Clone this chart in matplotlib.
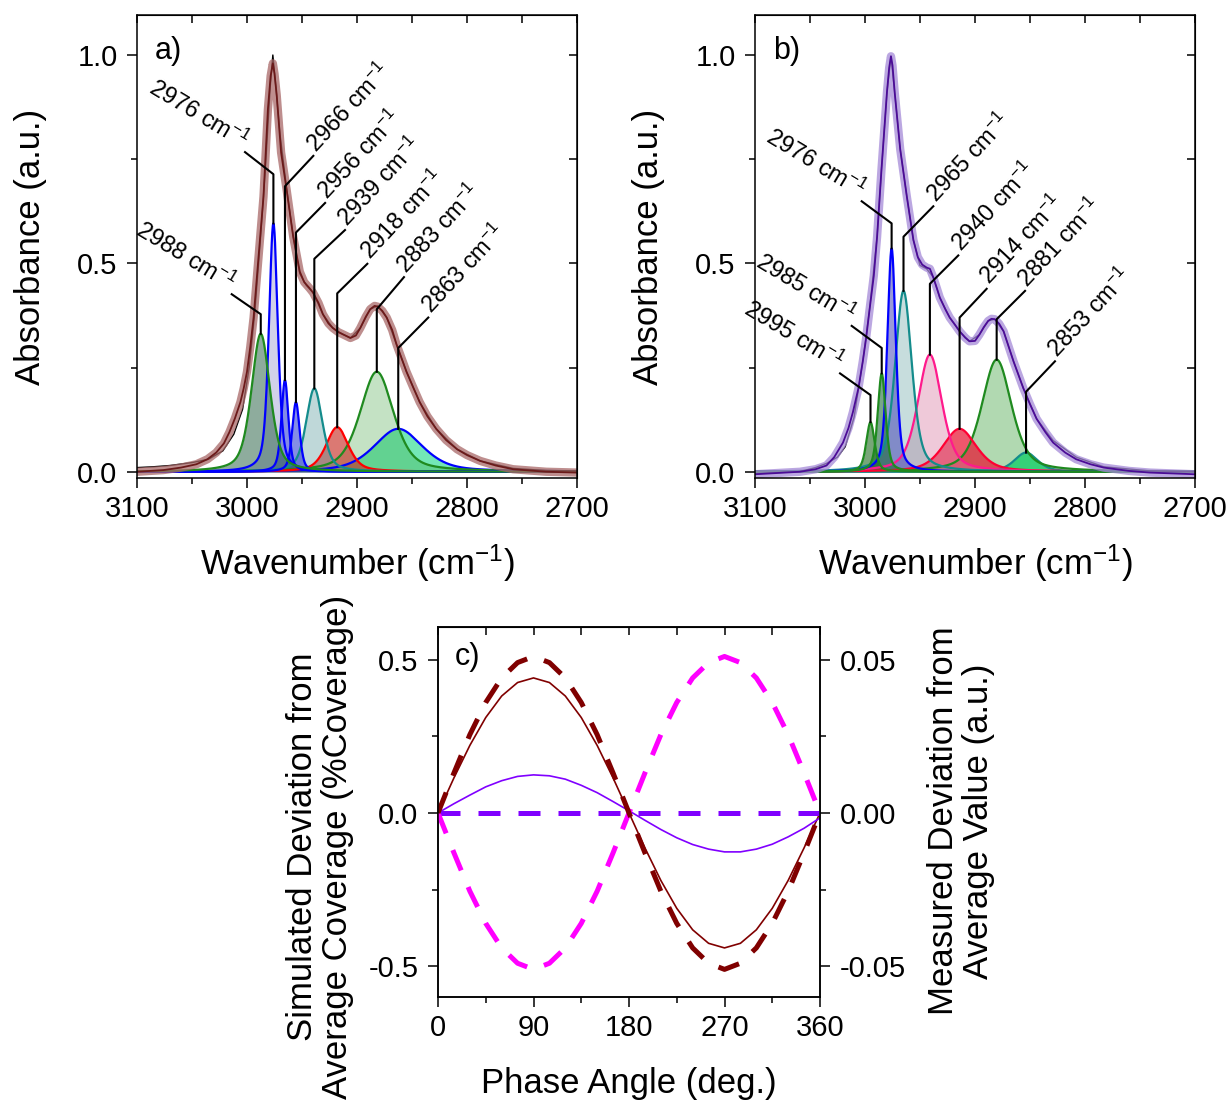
import numpy as np
import matplotlib
matplotlib.use('Agg')
import matplotlib.pyplot as plt
from matplotlib.ticker import MultipleLocator, FormatStrFormatter

plt.rcParams['font.family'] = ['Liberation Sans', 'DejaVu Sans']
plt.rcParams['mathtext.fontset'] = 'custom'
plt.rcParams['mathtext.rm'] = 'Liberation Sans'
plt.rcParams['mathtext.it'] = 'Liberation Sans:italic'
plt.rcParams['mathtext.default'] = 'regular'
plt.rcParams['axes.unicode_minus'] = False

##PANEL A: fitted peaks (position, height, FWHM)##
a_label = ['2988', '2976', '2966', '2956', '2939', '2918', '2883', '2863']
a_center = [2987.5, 2976.0, 2965.5, 2955.5, 2938.8, 2918.0, 2882.0, 2862.5]
a_height = [0.331, 0.596, 0.220, 0.167, 0.200, 0.107, 0.240, 0.103]
a_fwhm = [20, 9.5, 7.5, 8, 17.5, 24, 36, 52]

# measured spectrum and total fit
a_meas_wn = [3100, 3085, 3070, 3050, 3035, 3022, 3012, 3004, 2998, 2993, 2988,
             2983, 2979, 2976.5, 2974, 2970, 2964, 2958, 2952, 2946, 2940, 2931,
             2922, 2913, 2906, 2897, 2888, 2881, 2873, 2864, 2855, 2843, 2828,
             2809, 2788, 2758, 2728, 2700]
a_meas = [0.010, 0.012, 0.015, 0.022, 0.030, 0.050, 0.090, 0.150, 0.250, 0.380,
          0.550, 0.740, 0.920, 1.000, 0.930, 0.810, 0.680, 0.565, 0.475, 0.447,
          0.430, 0.378, 0.345, 0.330, 0.321, 0.345, 0.390, 0.398, 0.370, 0.305,
          0.240, 0.167, 0.103, 0.054, 0.026, 0.008, 0.003, 0.002]
a_fit_wn = [3100, 3076, 3060, 3046, 3036, 3028, 3021, 3016, 3011, 3006, 3003,
            3000, 2997, 2994, 2990, 2985, 2981, 2978.5, 2976.5, 2975, 2973, 2969,
            2964, 2958, 2952, 2948, 2943, 2940, 2935, 2931, 2926, 2922, 2917,
            2913, 2906, 2901, 2897, 2892, 2888, 2884, 2881, 2877, 2873, 2868,
            2864, 2855, 2849, 2843, 2836, 2828, 2819, 2809, 2800, 2788, 2774,
            2758, 2728, 2700]
a_fit = [0.000, 0.004, 0.010, 0.018, 0.030, 0.046, 0.068, 0.095, 0.128, 0.167,
         0.200, 0.240, 0.300, 0.370, 0.500, 0.660, 0.870, 0.950, 0.980, 0.955,
         0.904, 0.766, 0.677, 0.564, 0.480, 0.455, 0.440, 0.430, 0.405, 0.378,
         0.356, 0.345, 0.335, 0.330, 0.321, 0.327, 0.345, 0.372, 0.390, 0.398,
         0.396, 0.386, 0.370, 0.340, 0.305, 0.240, 0.203, 0.167, 0.133, 0.103,
         0.076, 0.054, 0.040, 0.026, 0.015, 0.006, 0.000, -0.002]

##PANEL B##
b_label = ['2995', '2985', '2976', '2965', '2940', '2914', '2881', '2853']
b_center = [2995.0, 2984.8, 2975.8, 2965.0, 2941.0, 2914.0, 2880.3, 2853.6]
b_height = [0.119, 0.236, 0.536, 0.434, 0.281, 0.103, 0.269, 0.046]
b_fwhm = [9, 8.5, 9, 18, 26, 36, 32, 25]

b_meas_wn = [3100, 3080, 3060, 3045, 3035, 3025, 3018, 3010, 3002, 2996, 2989,
             2985, 2980, 2976.4, 2973, 2968, 2962, 2956, 2950, 2944, 2938, 2932,
             2923, 2914, 2905, 2896, 2888, 2882, 2874, 2865, 2856, 2844, 2829,
             2808, 2783, 2741, 2700]
b_meas = [-0.005, -0.002, 0.000, 0.010, 0.020, 0.035, 0.060, 0.130, 0.265,
          0.386, 0.564, 0.726, 0.912, 0.997, 0.910, 0.774, 0.661, 0.556, 0.495,
          0.487, 0.467, 0.418, 0.370, 0.337, 0.313, 0.329, 0.362, 0.366, 0.337,
          0.265, 0.200, 0.127, 0.075, 0.035, 0.012, 0.002, 0.000]
b_fit_wn = [3100, 3059, 3045, 3035, 3028, 3020, 3015, 3011, 3006, 3002, 2999,
            2996, 2992, 2989, 2985, 2980, 2978, 2976.4, 2975, 2973, 2968, 2962,
            2956, 2952, 2948, 2944, 2941, 2938, 2935, 2932, 2927, 2923, 2918,
            2914, 2909, 2905, 2900, 2896, 2892, 2888, 2885, 2882, 2878, 2874,
            2870, 2865, 2856, 2850, 2844, 2836, 2829, 2818, 2808, 2795, 2783,
            2760, 2741, 2700]
b_fit = [-0.006, 0.000, 0.006, 0.015, 0.035, 0.070, 0.105, 0.143, 0.200, 0.265,
         0.320, 0.386, 0.470, 0.564, 0.726, 0.912, 0.970, 0.997, 0.975, 0.910,
         0.774, 0.661, 0.556, 0.515, 0.497, 0.490, 0.487, 0.467, 0.443, 0.418,
         0.390, 0.370, 0.352, 0.337, 0.322, 0.313, 0.314, 0.329, 0.347, 0.362,
         0.367, 0.366, 0.355, 0.337, 0.305, 0.265, 0.200, 0.162, 0.127, 0.095,
         0.070, 0.046, 0.030, 0.018, 0.010, 0.002, -0.002, -0.006]

##PANEL C##
phase = [0, 15, 30, 45, 60, 75, 90, 105, 120, 135, 150, 165, 180,
         195, 210, 225, 240, 255, 270, 285, 300, 315, 330, 345, 360]
meas_brown = [0, 0.013, 0.0255, 0.036, 0.044, 0.049, 0.051, 0.049, 0.044, 0.036,
              0.0255, 0.013, 0, -0.013, -0.0255, -0.036, -0.044, -0.049, -0.051,
              -0.049, -0.044, -0.036, -0.0255, -0.013, 0]
meas_magenta = [0, -0.013, -0.0255, -0.036, -0.044, -0.049, -0.051, -0.049,
                -0.044, -0.036, -0.0255, -0.013, 0, 0.013, 0.0255, 0.036, 0.044,
                0.049, 0.051, 0.049, 0.044, 0.036, 0.0255, 0.013, 0]
meas_purple = [0, 0, 0, 0, 0, 0, 0, 0, 0, 0, 0, 0, 0,
               0, 0, 0, 0, 0, 0, 0, 0, 0, 0, 0, 0]
sim_brown = [0, 0.114, 0.220, 0.311, 0.381, 0.425, 0.440, 0.425, 0.381, 0.311,
             0.220, 0.114, 0, -0.114, -0.220, -0.311, -0.381, -0.425, -0.440,
             -0.425, -0.381, -0.311, -0.220, -0.114, 0]
sim_purple = [0, 0.030, 0.058, 0.085, 0.105, 0.119, 0.124, 0.121, 0.110, 0.090,
              0.066, 0.037, 0.007, -0.024, -0.054, -0.081, -0.103, -0.118, -0.127,
              -0.127, -0.118, -0.102, -0.078, -0.050, -0.016]

# annotation leader layout (vertical top, then end of the slanted segment)
a_top = [0.378, 0.714, 0.685, 0.574, 0.511, 0.428, 0.390, 0.297]
a_end_wn = [3013.9, 3001.8, 2939.7, 2929.0, 2910.9, 2890.6, 2857.3, 2835.2]
a_end_A = [0.426, 0.767, 0.758, 0.645, 0.580, 0.499, 0.467, 0.370]
b_top = [0.184, 0.297, 0.596, 0.564, 0.451, 0.370, 0.366, 0.192]
b_end_wn = [3022.7, 3012.1, 3003.0, 2937.9, 2915.2, 2889.4, 2854.5, 2827.3]
b_end_A = [0.236, 0.350, 0.649, 0.637, 0.519, 0.439, 0.434, 0.265]

a_line = ['#1f8a1f', '#0000ff', '#0000ff', '#0000ff', '#148c8c', '#ff0000', '#1f8a1f', '#0000ff']
a_fill = ['#1e5a3c', '#8c8cc8', '#2030d0', '#2030d0', '#5f9ea0', '#c83228', '#3ca03c', '#00d67a']
a_alpha = [0.5, 0.4, 0.55, 0.55, 0.4, 0.65, 0.3, 0.55]
b_line = ['#1f8a1f', '#1f8a1f', '#0000ff', '#148c8c', '#ff1a8c', '#ff0033', '#1f8a1f', '#148c8c']
b_fill = ['#1e6b1e', '#1e6b3c', '#4848b8', '#5f9ea0', '#d87aa0', '#e8102e', '#3ca03c', '#00f08a']
b_alpha = [0.6, 0.6, 0.55, 0.35, 0.4, 0.7, 0.4, 0.8]


def peak(x, c, h, w):
    u = (x - c) / w
    return h * (0.5 * np.exp(-4 * np.log(2) * u ** 2) + 0.5 / (1 + 4 * u ** 2))


def style_axes(ax):
    for s in ax.spines.values():
        s.set_linewidth(1.1)
    ax.tick_params(which='major', direction='out', length=7, width=1.1,
                   labelsize=21, pad=5)
    ax.tick_params(which='minor', direction='out', length=4, width=1.1)
    ax.tick_params(axis='y', which='major', pad=7)


def spectrum(ax, labels, centers, heights, fwhms, tops, end_wn, end_A,
             lcol, fcol, alph, meas_wn, meas, fit_wn, fit, band, core, tag):
    x = np.linspace(2700, 3100, 1601)
    # draw low wavenumber first
    order = np.argsort(centers)
    for i in order:
        y = peak(x, centers[i], heights[i], fwhms[i])
        ax.fill_between(x, 0, y, color=fcol[i], alpha=alph[i], lw=0)
        ax.plot(x, y, color=lcol[i], lw=1.6)
    ax.plot(meas_wn, meas, color='k', lw=1.0)
    ax.plot(fit_wn, fit, color=band, lw=6, alpha=0.75, solid_capstyle='round',
            solid_joinstyle='round')
    ax.plot(fit_wn, fit, color=core, lw=1.3, solid_joinstyle='round')
    for i in range(len(labels)):
        ax.plot([centers[i], centers[i], end_wn[i]],
                [heights[i], tops[i], end_A[i]], color='k', lw=1.5)
        txt = labels[i] + r' cm$^{-1}$'
        if end_wn[i] > centers[i]:
            ax.annotate(txt, (end_wn[i], end_A[i]), xytext=(-2, 2),
                        textcoords='offset points', rotation=-31,
                        rotation_mode='anchor', ha='right', va='baseline',
                        fontsize=17)
        else:
            ax.annotate(txt, (end_wn[i], end_A[i]), xytext=(2, 2),
                        textcoords='offset points', rotation=47,
                        rotation_mode='anchor', ha='left', va='baseline',
                        fontsize=17)
    ax.set_xlim(3100, 2700)
    ax.set_ylim(-0.015, 1.096)
    ax.xaxis.set_major_locator(MultipleLocator(100))
    ax.xaxis.set_minor_locator(MultipleLocator(50))
    ax.yaxis.set_major_locator(MultipleLocator(0.5))
    ax.yaxis.set_minor_locator(MultipleLocator(0.25))
    ax.yaxis.set_major_formatter(FormatStrFormatter('%.1f'))
    style_axes(ax)
    top = ax.secondary_xaxis('top')
    top.xaxis.set_major_locator(MultipleLocator(50))
    top.tick_params(direction='in', length=6, width=1.1, labeltop=False)
    right = ax.secondary_yaxis('right')
    right.yaxis.set_major_locator(MultipleLocator(0.25))
    right.tick_params(direction='in', length=6, width=1.1, labelright=False)
    ax.set_xlabel(r'Wavenumber (cm$^{-1}$)', fontsize=25)
    ax.xaxis.set_label_coords(0.5, -0.14)
    ax.set_ylabel('Absorbance (a.u.)', fontsize=25)
    ax.yaxis.set_label_coords(-0.205, 0.5)
    ax.text(0.04, 0.955, tag, transform=ax.transAxes, fontsize=22,
            ha='left', va='top')


fig = plt.figure(figsize=(12.3, 11), dpi=100)
ax1 = fig.add_axes([137 / 1230, 1 - 478 / 1100, 440 / 1230, 463 / 1100])
ax2 = fig.add_axes([755 / 1230, 1 - 478 / 1100, 440 / 1230, 463 / 1100])
ax3 = fig.add_axes([438 / 1230, 1 - 997 / 1100, 382 / 1230, 370 / 1100])

spectrum(ax1, a_label, a_center, a_height, a_fwhm, a_top, a_end_wn, a_end_A,
         a_line, a_fill, a_alpha, a_meas_wn, a_meas, a_fit_wn, a_fit,
         '#a86868', '#6b1a1a', 'a)')
spectrum(ax2, b_label, b_center, b_height, b_fwhm, b_top, b_end_wn, b_end_A,
         b_line, b_fill, b_alpha, b_meas_wn, b_meas, b_fit_wn, b_fit,
         '#a58ad8', '#4b0c96', 'b)')

# panel c
ax3r = ax3.twinx()
ax3.plot(phase, sim_brown, color='#800000', lw=1.2)
ax3.plot(phase, sim_purple, color='#8000ff', lw=1.2)
ax3r.plot(phase, meas_purple, color='#8000ff', lw=3.6, dashes=(4.4, 3.6))
ax3r.plot(phase, meas_magenta, color='#ff00ff', lw=3.6, dashes=(4.4, 3.6))
ax3r.plot(phase, meas_brown, color='#800000', lw=3.6, dashes=(4.4, 3.6))
ax3.set_xlim(0, 360)
ax3.set_ylim(-0.6, 0.606)
ax3r.set_ylim(-0.06, 0.0606)
ax3.xaxis.set_major_locator(MultipleLocator(90))
ax3.xaxis.set_minor_locator(MultipleLocator(45))
ax3.yaxis.set_major_locator(MultipleLocator(0.5))
ax3.yaxis.set_minor_locator(MultipleLocator(0.25))
ax3.yaxis.set_major_formatter(FormatStrFormatter('%.1f'))
ax3r.yaxis.set_major_locator(MultipleLocator(0.05))
ax3r.yaxis.set_minor_locator(MultipleLocator(0.025))
ax3r.yaxis.set_major_formatter(FormatStrFormatter('%.2f'))
style_axes(ax3)
style_axes(ax3r)
top3 = ax3.secondary_xaxis('top')
top3.xaxis.set_major_locator(MultipleLocator(45))
top3.tick_params(direction='in', length=6, width=1.1, labeltop=False)
ax3.set_xlabel('Phase Angle (deg.)', fontsize=25)
ax3.xaxis.set_label_coords(0.5, -0.19)
ax3.text(0.045, 0.96, 'c)', transform=ax3.transAxes, fontsize=22,
         ha='left', va='top')
fig.text(320 / 1230, 1 - 847 / 1100, 'Simulated Deviation from\nAverage Coverage (%Coverage)',
         rotation=90, ha='center', va='center', fontsize=25, multialignment='center',
         linespacing=1.05)
fig.text(961 / 1230, 1 - 821 / 1100, 'Measured Deviation from\nAverage Value (a.u.)',
         rotation=90, ha='center', va='center', fontsize=25, multialignment='center',
         linespacing=1.05)

plt.savefig('out.png', dpi=100)
